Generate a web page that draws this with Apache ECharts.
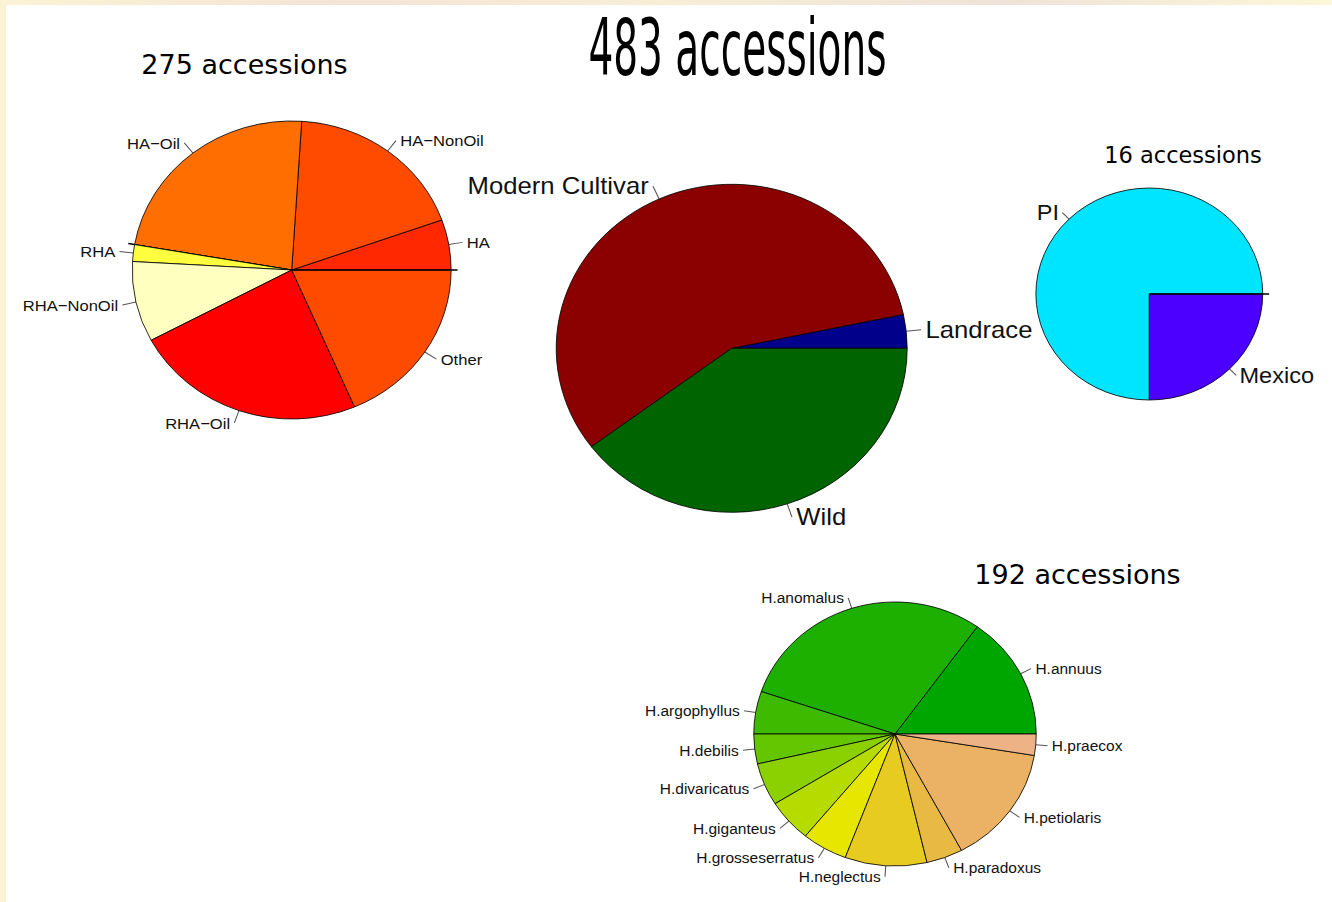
<!DOCTYPE html>
<html>
<head>
    <meta charset="utf-8">
    <title>Sunflower accessions</title>
    <script src="https://cdn.jsdelivr.net/npm/echarts@6.0.0/dist/echarts.min.js"></script>
    <style>
        html, body {
            margin: 0;
            padding: 0;
            width: 1332px;
            height: 902px;
            overflow: hidden;
            background: linear-gradient(90deg, #fbf3d4 0%, #f3e4d6 25%, #f8eed6 50%, #efe2d8 75%, #fcf7d8 100%);
        }
        #panel {
            position: absolute;
            left: 6px;
            top: 5px;
            right: 0;
            bottom: 0;
            background: #fff;
        }
        /* the original plot is stretched a little horizontally, so the
           chart is drawn 7% narrower and scaled back out */
        #chart {
            position: absolute;
            left: 0;
            top: 0;
            width: 1245px;
            height: 902px;
            transform-origin: 0 0;
            transform: scaleX(1.07);
        }
    </style>
</head>
<body>
    <div id="panel"></div>
    <div id="chart"></div>

    <script>
        // 275 accessions - modern cultivars by breeding type (R also left two empty levels)
        const cultivarNames = ['HA', 'HA\u2212NonOil', 'HA\u2212Oil', ' ', 'RHA', 'RHA\u2212NonOil', 'RHA\u2212Oil', 'Other', '  '];
        const cultivarCounts = [15, 51, 64, 0, 5, 24, 65, 51, 0];

        // 483 accessions - all
        const groupNames = ['Landrace', 'Modern Cultivar', 'Wild'];
        const groupCounts = [16, 275, 192];

        // 16 accessions - landraces
        const landraceNames = ['PI', 'Mexico', ' '];
        const landraceCounts = [12, 4, 0];

        // 192 accessions - wild species
        const wildNames = ['H.annuus', 'H.anomalus', 'H.argophyllus', 'H.debilis', 'H.divaricatus',
            'H.giganteus', 'H.grosseserratus', 'H.neglectus', 'H.paradoxus', 'H.petiolaris', 'H.praecox'];
        const wildCounts = [29, 57, 10, 7, 10, 10, 10, 18, 8, 28, 5];

        const titles = ['275 accessions', '483 accessions', '16 accessions', '192 accessions'];

        // colours
        const cultivarColors = ['#ff2800', '#ff4b00', '#ff6e00', '#000', '#ffff40', '#ffffbf', '#ff0000', '#ff4b00', '#000'];
        const groupColors = ['#00008b', '#8b0000', '#006400'];
        const landraceColors = ['#00e5ff', '#4c00ff', '#000'];
        const wildColors = ['#00a600', '#1db000', '#3ebb00', '#63c600', '#8bd000', '#b6db00',
            '#e6e600', '#e7cb21', '#e9ba43', '#ebb165', '#edb387'];

        const SX = 1.07;  // horizontal stretch of the container

        const chart = echarts.init(document.getElementById('chart'), null, { renderer: 'svg' });

        function toData(names, counts, colors) {
            return names.map((n, i) => {
                const d = { name: n, value: counts[i], itemStyle: { color: colors[i] } };
                if (counts[i] === 0) {
                    // empty level: R still draws its tick
                    d.label = { show: true, fontSize: 4 };
                    d.labelLine = { show: true, length: 6, lineStyle: { color: '#000', width: 1.5 } };
                }
                return d;
            });
        }

        function pieSeries(data, center, radius, fontSize) {
            return {
                type: 'pie',
                center: center,
                radius: [0, radius],
                startAngle: 0,
                clockwise: false,
                avoidLabelOverlap: false,
                stillShowZeroSum: true,
                silent: true,
                animation: false,
                data: data,
                itemStyle: { borderColor: '#000', borderWidth: 0.8 },
                label: {
                    show: true,
                    position: 'outside',
                    formatter: '{b}',
                    fontFamily: 'Liberation Sans',
                    fontSize: fontSize,
                    color: '#111',
                    distanceToLabelLine: Math.round(radius * 0.02) + 1
                },
                labelLine: {
                    show: true,
                    length: Math.round(radius * 0.085),
                    length2: 0,
                    lineStyle: { color: '#555', width: 1 }
                },
                emphasis: { disabled: true }
            };
        }

        function titleText(text, x, y, size, scaleY) {
            return {
                type: 'text',
                x: x,
                y: y,
                scaleX: 1 / SX,
                scaleY: scaleY,
                silent: true,
                style: {
                    text: text,
                    fontFamily: 'DejaVu Sans',
                    fontSize: size,
                    fill: '#000',
                    textAlign: 'center',
                    textVerticalAlign: 'middle'
                }
            };
        }

        // page x -> chart x
        function px(x) { return x / SX; }

        const option = {
            animation: false,
            graphic: [
                titleText(titles[0], px(244.5), 65, 27, 1),
                titleText(titles[1], px(737.5), 48, 39, 2),
                titleText(titles[2], px(1183), 155, 22.5, 1),
                titleText(titles[3], px(1077.5), 575, 27, 1)
            ],
            series: [
                pieSeries(toData(cultivarNames, cultivarCounts, cultivarColors), [px(291.7), 270], 149, 15.5),
                pieSeries(toData(groupNames, groupCounts, groupColors), [px(731.7), 348.3], 164, 24),
                pieSeries(toData(landraceNames, landraceCounts, landraceColors), [px(1149.3), 294], 106, 22),
                pieSeries(toData(wildNames, wildCounts, wildColors), [px(895), 734], 132, 14.5)
            ]
        };
        chart.setOption(option);
    </script>
</body>
</html>
